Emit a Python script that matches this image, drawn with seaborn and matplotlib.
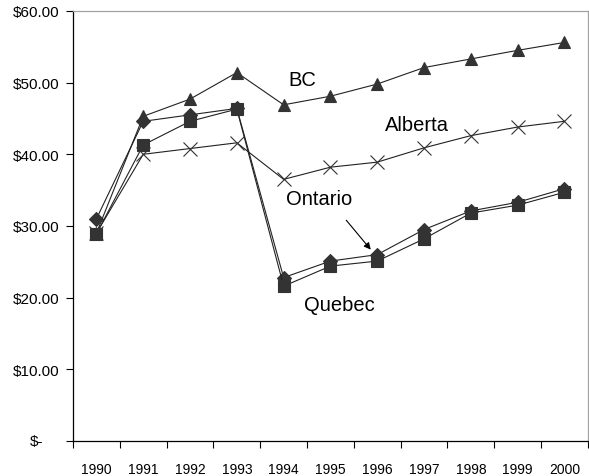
import matplotlib
matplotlib.use("Agg")
import matplotlib.pyplot as plt
import matplotlib.transforms as mtransforms
import seaborn as sns
import pandas as pd
import numpy as np

# ── Data ──────────────────────────────────────────────────────────────────────
years = ["1990", "1991", "1992", "1993", "1994", "1995", "1996", "1997", "1998", "1999", "2000"]
bc = [29.0, 45.3, 47.7, 51.4, 46.9, 48.1, 49.8, 52.1, 53.3, 54.5, 55.6]
alberta = [29.0, 40.0, 40.8, 41.6, 36.5, 38.2, 38.9, 40.9, 42.6, 43.8, 44.6]
ontario = [31.0, 44.6, 45.5, 46.4, 22.8, 25.1, 26.0, 29.5, 32.1, 33.3, 35.2]
quebec = [28.9, 41.3, 44.6, 46.3, 21.6, 24.4, 25.1, 28.2, 31.8, 32.9, 34.7]
provinces = ["BC", "Alberta", "Ontario", "Quebec"]

df = pd.DataFrame({
    "x": list(range(len(years))) * 4,
    "value": bc + alberta + ontario + quebec,
    "province": np.repeat(provinces, len(years)),
})

sns.set_style("white")
FONT = ["Liberation Sans Narrow", "Liberation Sans", "DejaVu Sans"]
plt.rcParams["font.family"] = FONT
plt.rcParams["text.color"] = "black"
plt.rcParams["xtick.color"] = "black"
plt.rcParams["ytick.color"] = "black"

fig = plt.figure(figsize=(5.89, 4.77), dpi=100)
ax = fig.add_axes([0.124, 0.0734, 0.874, 0.9016])

markers = {"BC": "^", "Alberta": "x", "Ontario": "D", "Quebec": "s"}
sizes = {"BC": 9, "Alberta": 10, "Ontario": 7, "Quebec": 8.5}
for prov in provinces:
    sub = df[df["province"] == prov]
    sns.lineplot(data=sub, x="x", y="value", ax=ax, color="#222222", lw=0.8,
                 marker=markers[prov], markersize=sizes[prov],
                 markerfacecolor="#333333", markeredgecolor="#333333",
                 markeredgewidth=0.8, legend=False)

ax.set_xlim(-0.5, len(years) - 0.5)
ax.set_ylim(0, 60)
ax.set_xlabel("")
ax.set_ylabel("")

yvals = np.arange(0, 61, 10)
ax.set_yticks(yvals)
ax.set_yticklabels([""] + [f"${v:.2f}" for v in yvals[1:]], fontsize=11)
# accounting-style zero label sits further left
zero_tr = ax.get_yaxis_transform() + mtransforms.ScaledTranslation(-0.30, 0, fig.dpi_scale_trans)
ax.text(0, 0, "$-", transform=zero_tr, ha="right", va="center", fontsize=11, family=FONT)

ax.set_xticks(range(len(years)))
ax.set_xticklabels(years, fontsize=10)
ax.set_xticks(np.arange(-0.5, len(years), 1), minor=True)
ax.tick_params(axis="x", which="major", length=0, pad=15)
ax.tick_params(axis="x", which="minor", length=5, width=0.8, color="black", direction="out", bottom=True)
ax.tick_params(axis="y", length=5, width=0.8, color="black", direction="out", left=True, pad=5)

for side in ["left", "bottom"]:
    ax.spines[side].set_color("black")
    ax.spines[side].set_linewidth(0.9)
for side in ["top", "right"]:
    ax.spines[side].set_color("#a0a0a0")
    ax.spines[side].set_linewidth(0.9)

# ── Annotations ──────────────────────────────────────────────────────────────
tkw = dict(fontsize=14.5, ha="center", va="center", family=FONT)
ax.text(4.4, 50.5, "BC", **tkw)
ax.text(6.85, 44.1, "Alberta", **tkw)
ax.text(4.75, 33.8, "Ontario", **tkw)
ax.text(5.2, 19.0, "Quebec", **tkw)
ax.annotate("", xy=(5.9, 26.4), xytext=(5.3, 31.1),
            arrowprops=dict(arrowstyle="-|>", color="black", lw=0.8, mutation_scale=10))

fig.savefig("out.png", dpi=100)
